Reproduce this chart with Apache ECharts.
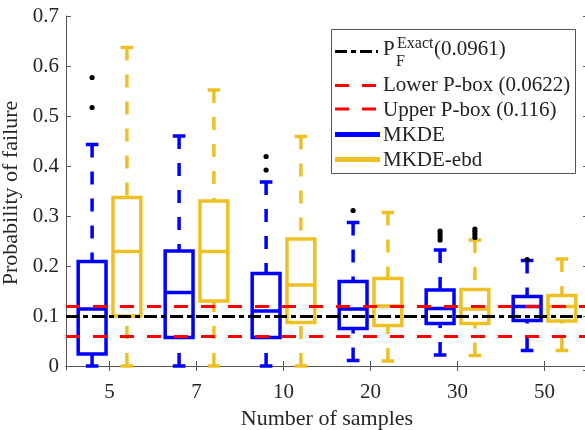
<!DOCTYPE html>
<html lang="en">
<head>
    <meta charset="UTF-8">
    <title>Probability of failure</title>
    <script src="https://cdn.jsdelivr.net/npm/echarts@6/dist/echarts.min.js"></script>
    <style>
        body { margin: 0; background: #fff; }
    </style>
</head>
<body>
    <div id="main" style="width: 585px; height: 430px"></div>
    <script>
        var myChart = echarts.init(document.getElementById('main'))

        // categories (number of samples)
        var sampleSizes = ['5', '7', '10', '20', '30', '50']

        // box statistics: [lower whisker, Q1, median, Q3, upper whisker]
        var mkdeStats = [
            [0, 0.024, 0.114, 0.209, 0.443],
            [0, 0.057, 0.147, 0.230, 0.460],
            [0, 0.057, 0.110, 0.185, 0.368],
            [0.011, 0.075, 0.114, 0.169, 0.287],
            [0.022, 0.085, 0.115, 0.152, 0.232],
            [0.031, 0.091, 0.119, 0.139, 0.211]
        ]
        var mkdeEbdStats = [
            [0, 0.100, 0.229, 0.337, 0.637],
            [0, 0.130, 0.229, 0.330, 0.552],
            [0, 0.087, 0.162, 0.254, 0.459],
            [0.010, 0.081, 0.120, 0.175, 0.307],
            [0.021, 0.085, 0.114, 0.153, 0.252],
            [0.031, 0.090, 0.119, 0.141, 0.214]
        ]

        // outliers per category
        var mkdeOutliers = [[0.577, 0.517], [], [0.419, 0.392], [0.311], [0.252, 0.258, 0.264, 0.270], [0.213]]
        var mkdeEbdOutliers = [[], [], [], [], [0.257, 0.263, 0.269, 0.274], []]

        // reference probabilities
        var pfExact = 0.0961
        var pboxLower = 0.0622
        var pboxUpper = 0.116

        var yTicks = [0, 0.1, 0.2, 0.3, 0.4, 0.5, 0.6, 0.7]

        var BLUE = '#0000ff'
        var YELLOW = '#edc125'
        var AXIS = '#555'
        var FONT = 'Liberation Serif'

        function boxData(stats) {
            return stats.map(function (s, i) { return [i].concat(s) })
        }
        function outlierData(list) {
            var out = []
            list.forEach(function (vals, i) {
                vals.forEach(function (v) { out.push([i, v]) })
            })
            return out
        }

        // draws box + dashed whiskers + caps, shifted inside the category band
        function boxRender(offset, color) {
            return function (params, api) {
                var idx = api.value(0)
                var band = api.size([1, 0])[0]
                var cx = api.coord([idx, 0])[0] + offset * band
                var w = band * 0.32
                var cw = band * 0.145
                var yLo = api.coord([idx, api.value(1)])[1]
                var yQ1 = api.coord([idx, api.value(2)])[1]
                var yMed = api.coord([idx, api.value(3)])[1]
                var yQ3 = api.coord([idx, api.value(4)])[1]
                var yHi = api.coord([idx, api.value(5)])[1]
                var solid = { stroke: color, lineWidth: 3.5, fill: null }
                var dashed = { stroke: color, lineWidth: 3.5, lineDash: [13, 14] }
                return {
                    type: 'group',
                    children: [
                        { type: 'line', shape: { x1: cx, y1: yHi, x2: cx, y2: yQ3 }, style: dashed },
                        { type: 'line', shape: { x1: cx, y1: yLo, x2: cx, y2: yQ1 }, style: dashed },
                        { type: 'line', shape: { x1: cx - cw / 2, y1: yHi, x2: cx + cw / 2, y2: yHi }, style: solid },
                        { type: 'line', shape: { x1: cx - cw / 2, y1: yLo, x2: cx + cw / 2, y2: yLo }, style: solid },
                        { type: 'rect', shape: { x: cx - w / 2, y: yQ3, width: w, height: yQ1 - yQ3 }, style: solid },
                        { type: 'line', shape: { x1: cx - w / 2, y1: yMed, x2: cx + w / 2, y2: yMed }, style: solid }
                    ]
                }
            }
        }

        function dotRender(offset) {
            return function (params, api) {
                var idx = api.value(0)
                var band = api.size([1, 0])[0]
                var p = api.coord([idx, api.value(1)])
                return {
                    type: 'circle',
                    shape: { cx: p[0] + offset * band, cy: p[1], r: 2.6 },
                    style: { fill: '#000' }
                }
            }
        }

        function refLine(value, color, dash) {
            return {
                type: 'line',
                data: [],
                silent: true,
                z: 1,
                markLine: {
                    silent: true,
                    symbol: 'none',
                    label: { show: false },
                    lineStyle: { color: color, width: 3, type: dash, opacity: 1 },
                    emphasis: { disabled: true },
                    data: [{ yAxis: value }]
                }
            }
        }

        var tickStyle = { show: true, inside: true, length: 5, lineStyle: { color: AXIS } }
        var lineStyle = { show: true, lineStyle: { color: AXIS, width: 1 } }

        var legendX = 331, legendY = 29
        var legendGraphics = [
            { type: 'rect', left: legendX, top: legendY, shape: { width: 244, height: 144 }, style: { fill: '#fff', stroke: AXIS, lineWidth: 1 } },
            { type: 'line', shape: { x1: 335, y1: 51.5, x2: 378, y2: 51.5 }, style: { stroke: '#000', lineWidth: 3, lineDash: [12, 4, 5, 4] } },
            { type: 'text', x: 383, y: 49, style: { text: 'P', font: '21px "' + FONT + '"', fill: '#222', verticalAlign: 'middle' } },
            { type: 'text', x: 397, y: 44, style: { text: 'Exact', font: '16px "' + FONT + '"', fill: '#222', verticalAlign: 'middle' } },
            { type: 'text', x: 396, y: 62, style: { text: 'F', font: '16px "' + FONT + '"', fill: '#222', verticalAlign: 'middle' } },
            { type: 'text', x: 434, y: 49, style: { text: '(' + pfExact + ')', font: '21px "' + FONT + '"', fill: '#222', verticalAlign: 'middle' } },
            { type: 'line', shape: { x1: 335, y1: 85.5, x2: 378, y2: 85.5 }, style: { stroke: '#f00', lineWidth: 3, lineDash: [14, 13] } },
            { type: 'text', x: 383, y: 85, style: { text: 'Lower P-box (' + pboxLower + ')', font: '21px "' + FONT + '"', fill: '#222', verticalAlign: 'middle' } },
            { type: 'line', shape: { x1: 335, y1: 109, x2: 378, y2: 109 }, style: { stroke: '#f00', lineWidth: 3, lineDash: [14, 13] } },
            { type: 'text', x: 383, y: 110, style: { text: 'Upper P-box (' + pboxUpper + ')', font: '21px "' + FONT + '"', fill: '#222', verticalAlign: 'middle' } },
            { type: 'line', shape: { x1: 335, y1: 134.5, x2: 380, y2: 134.5 }, style: { stroke: BLUE, lineWidth: 5 } },
            { type: 'text', x: 383, y: 135, style: { text: 'MKDE', font: '21px "' + FONT + '"', fill: '#222', verticalAlign: 'middle' } },
            { type: 'line', shape: { x1: 335, y1: 159.5, x2: 380, y2: 159.5 }, style: { stroke: YELLOW, lineWidth: 5 } },
            { type: 'text', x: 383, y: 160, style: { text: 'MKDE-ebd', font: '21px "' + FONT + '"', fill: '#222', verticalAlign: 'middle' } }
        ]

        var option = {
            animation: false,
            backgroundColor: '#fff',
            textStyle: { fontFamily: FONT },
            grid: { left: 66, top: 16, right: -3, bottom: 60, outerBoundsMode: 'none', containLabel: false },
            xAxis: [
                {
                    type: 'category',
                    data: sampleSizes,
                    name: 'Number of samples',
                    nameLocation: 'middle',
                    nameGap: 38,
                    nameTextStyle: { fontSize: 22, color: '#262626', fontFamily: FONT },
                    axisLine: lineStyle,
                    axisTick: Object.assign({ alignWithLabel: true }, tickStyle),
                    axisLabel: { fontSize: 21, color: '#262626', margin: 12, fontFamily: FONT },
                    splitLine: { show: false }
                },
                {
                    type: 'category',
                    data: sampleSizes,
                    position: 'top',
                    axisLine: lineStyle,
                    axisTick: Object.assign({ alignWithLabel: true }, tickStyle),
                    axisLabel: { show: false },
                    splitLine: { show: false }
                }
            ],
            yAxis: [
                {
                    type: 'value',
                    min: -0.008,
                    max: yTicks[yTicks.length - 1],
                    splitNumber: yTicks.length - 1,
                    name: 'Probability of failure',
                    nameLocation: 'middle',
                    nameGap: 38,
                    nameTextStyle: { fontSize: 22, color: '#262626', fontFamily: FONT },
                    axisLine: lineStyle,
                    axisTick: tickStyle,
                    axisLabel: { fontSize: 21, color: '#262626', margin: 7, showMinLabel: false, fontFamily: FONT },
                    splitLine: { show: false }
                },
                {
                    type: 'value',
                    min: -0.008,
                    max: yTicks[yTicks.length - 1],
                    splitNumber: yTicks.length - 1,
                    position: 'right',
                    axisLine: lineStyle,
                    axisTick: tickStyle,
                    axisLabel: { show: false },
                    splitLine: { show: false }
                }
            ],
            graphic: legendGraphics,
            series: [
                refLine(pfExact, '#000', [13, 4, 5, 4]),
                refLine(pboxLower, '#f00', [14, 13]),
                refLine(pboxUpper, '#f00', [14, 13]),
                {
                    name: 'MKDE',
                    type: 'custom',
                    renderItem: boxRender(-0.2, BLUE),
                    encode: { x: 0, y: [1, 2, 3, 4, 5] },
                    data: boxData(mkdeStats),
                    z: 3
                },
                {
                    name: 'MKDE-ebd',
                    type: 'custom',
                    renderItem: boxRender(0.2, YELLOW),
                    encode: { x: 0, y: [1, 2, 3, 4, 5] },
                    data: boxData(mkdeEbdStats),
                    z: 3
                },
                {
                    type: 'custom',
                    renderItem: dotRender(-0.2),
                    encode: { x: 0, y: 1 },
                    data: outlierData(mkdeOutliers),
                    z: 4
                },
                {
                    type: 'custom',
                    renderItem: dotRender(0.2),
                    encode: { x: 0, y: 1 },
                    data: outlierData(mkdeEbdOutliers),
                    z: 4
                }
            ]
        }

        myChart.setOption(option)
    </script>
</body>
</html>
